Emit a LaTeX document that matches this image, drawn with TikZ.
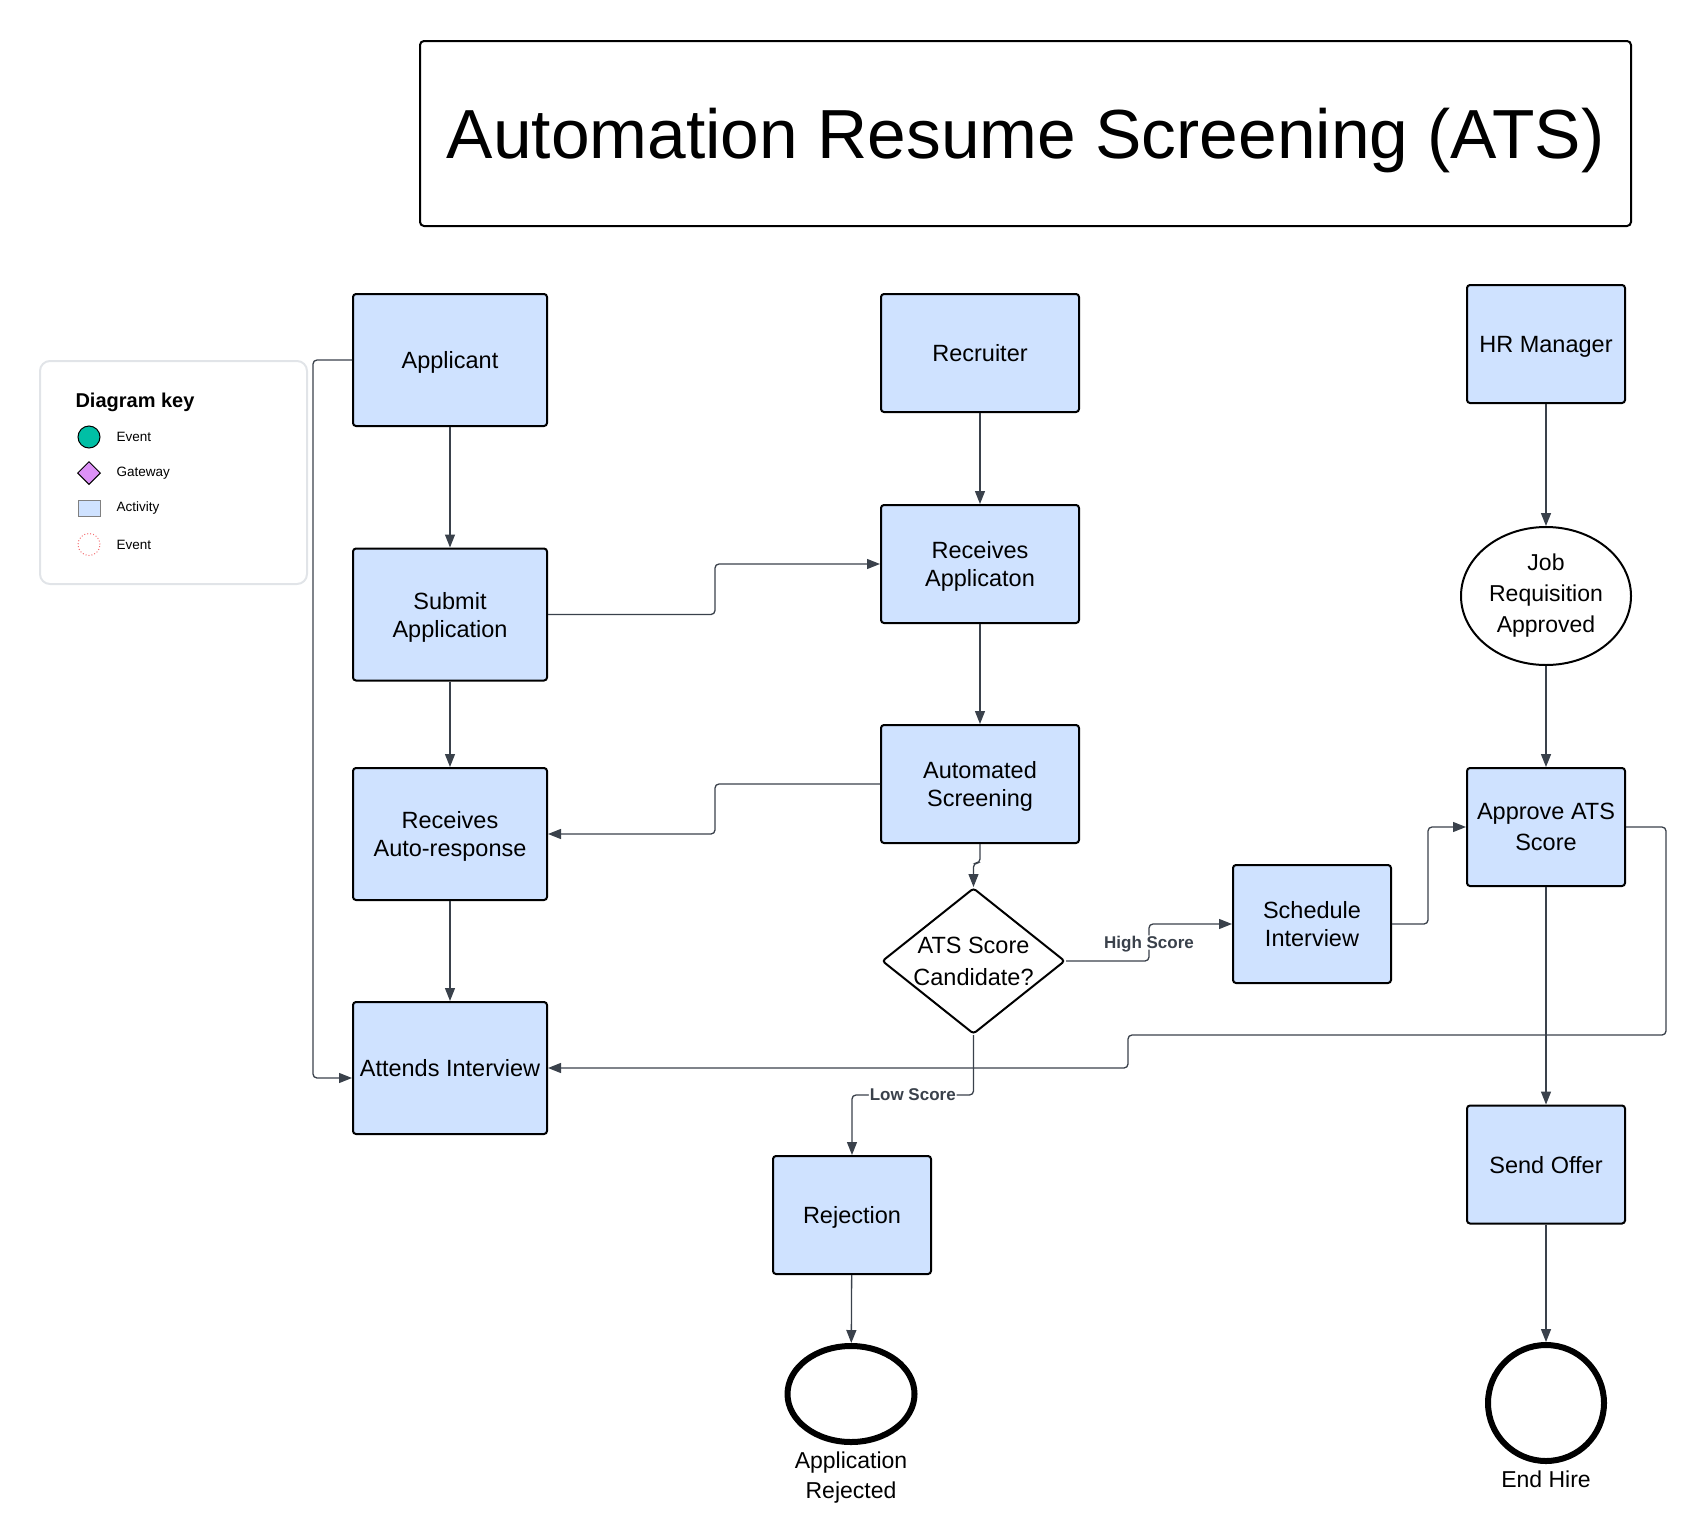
\documentclass[tikz,border=0pt]{standalone}
\usepackage{fontspec}
\setmainfont{Liberation Sans}
\usetikzlibrary{positioning, shapes.geometric, arrows.meta}
\definecolor{boxfill}{HTML}{CFE2FF}
\definecolor{wire}{HTML}{3A414B}
\definecolor{keyline}{HTML}{E1E4E8}
\definecolor{keyteal}{HTML}{00BFA5}
\definecolor{keypurple}{HTML}{DD91F7}
\definecolor{keyred}{HTML}{F47174}

\begin{document}
\begin{tikzpicture}[x=1pt, y=-1pt,
  box/.style={rectangle, draw=black, line width=2pt, rounded corners=3pt, fill=boxfill, minimum width=158pt, minimum height=118pt, align=center, inner sep=0pt, text depth=0pt, font=\fontsize{23.5}{28}\selectfont},
  endev/.style={ellipse, draw=black, line width=6pt, fill=white, inner sep=0pt},
  flow/.style={-{Triangle[length=13pt, width=10pt]}, line width=1.3pt, wire, rounded corners=4pt},
  cond/.style={fill=white, inner sep=1pt, text depth=0pt, text=wire, font=\fontsize{17}{20}\selectfont\bfseries},
  keytext/.style={anchor=west, font=\fontsize{13.5}{16}\selectfont}]
  \useasboundingbox (0,0) rectangle (1708,1526);

  \node[rectangle, draw=black, line width=2pt, rounded corners=4pt, minimum width=1211pt, minimum height=185pt, text height=50pt, text depth=0pt, font=\fontsize{69.5}{80}\selectfont] (title) at (1025.5,133.5) {Automation Resume Screening (ATS)};

  \node[rectangle, draw=keyline, line width=2pt, rounded corners=10pt, minimum width=267pt, minimum height=223pt] (key) at (173.5,472.5) {};
  \node[anchor=west, font=\fontsize{20}{24}\selectfont\bfseries] (keyhead) at (72,402) {Diagram key};
  \node[circle, draw=black, line width=1pt, fill=keyteal, minimum size=22pt, inner sep=0pt] (k1) at (89,437) {};
  \node[diamond, draw=black, line width=1pt, fill=keypurple, minimum width=23pt, minimum height=23pt, inner sep=0pt] (k2) at (89,473) {};
  \node[rectangle, draw=gray, line width=1pt, fill=boxfill, minimum width=22pt, minimum height=16pt, inner sep=0pt] (k3) at (89,508.5) {};
  \node[circle, draw=keyred, dotted, line width=1pt, minimum size=22pt, inner sep=0pt] (k4) at (89,544.5) {};
  \node[keytext] (t1) at (113,437) {Event};
  \node[keytext] (t2) at (113,473) {Gateway};
  \node[keytext] (t3) at (113,508.5) {Activity};
  \node[keytext] (t4) at (113,544.5) {Event};

  \node[box, minimum width=194pt, minimum height=132pt] (app) at (450,360) {Applicant};
  \node[box, minimum width=194pt, minimum height=132pt] (sub) at (450,614.5) {Submit\\Application};
  \node[box, minimum width=194pt, minimum height=132pt] (resp) at (450,834) {Receives\\Auto-response};
  \node[box, minimum width=194pt, minimum height=132pt] (att) at (450,1068) {Attends Interview};

  \node[box, minimum width=198pt] (rec) at (980,353) {Recruiter};
  \node[box, minimum width=198pt] (rapp) at (980,564) {Receives\\Applicaton};
  \node[box, minimum width=198pt] (scr) at (980,784) {Automated\\Screening};
  \node[diamond, draw=black, line width=2pt, rounded corners=3pt, fill=white, aspect=1.25, inner sep=0pt, minimum width=183pt, minimum height=146pt, align=center, text depth=0pt, font=\fontsize{23.5}{32}\selectfont] (gate) at (973.5,961) {ATS Score\\Candidate?};
  \node[box] (sched) at (1312,924) {Schedule\\Interview};
  \node[box] (rej) at (852,1215) {Rejection};
  \node[endev, minimum width=127pt, minimum height=96pt, label={[align=center, inner sep=0pt, label distance=7pt, font=\fontsize{23}{30}\selectfont]below:Application\\Rejected}] (endrej) at (851,1394) {};

  \node[box] (hr) at (1546,344) {HR Manager};
  \node[ellipse, draw=black, line width=2pt, fill=white, minimum width=170pt, minimum height=138pt, inner sep=0pt, align=center, font=\fontsize{23}{31}\selectfont] (jra) at (1546,596) {Job\\Requisition\\Approved};
  \node[box, font=\fontsize{23.5}{31}\selectfont] (appr) at (1546,827) {Approve ATS\\Score};
  \node[box] (offer) at (1546,1164.5) {Send Offer};
  \node[endev, circle, minimum size=116pt, label={[inner sep=0pt, label distance=7pt, font=\fontsize{23}{28}\selectfont]below:End Hire}] (endhire) at (1546,1403) {};

  \draw[flow] (app) -- (sub);
  \draw[flow] (sub) -- (resp);
  \draw[flow] (resp) -- (att);
  \draw[flow] (app.west) -- ++(-39,0) |- ([yshift=-10pt]att.west);
  \draw[flow] (sub.east) -- ++(167,0) |- (rapp.west);
  \draw[flow] (rec) -- (rapp);
  \draw[flow] (rapp) -- (scr);
  \draw[flow] (scr.west) -- ++(-165,0) |- (resp.east);
  \draw[flow] (scr.south) -- ++(0,19) -| (gate.north);
  \draw[flow] (gate.east) -- ++(83,0) |- node[pos=0.25, cond] {High Score} (sched.west);
  \draw[flow] (gate.south) -- ++(0,60) -| node[pos=0.25, cond] {Low Score} (rej.north);
  \draw[flow] (rej) -- (endrej);
  \draw[flow] (sched.east) -- ++(36,0) |- (appr.west);
  \draw[flow] (appr.east) -- ++(40,0) |- (1128,1035) |- (att.east);
  \draw[flow] (hr) -- (jra);
  \draw[flow] (jra) -- (appr);
  \draw[flow] (appr) -- (offer);
  \draw[flow] (offer) -- (endhire);
\end{tikzpicture}
\end{document}
